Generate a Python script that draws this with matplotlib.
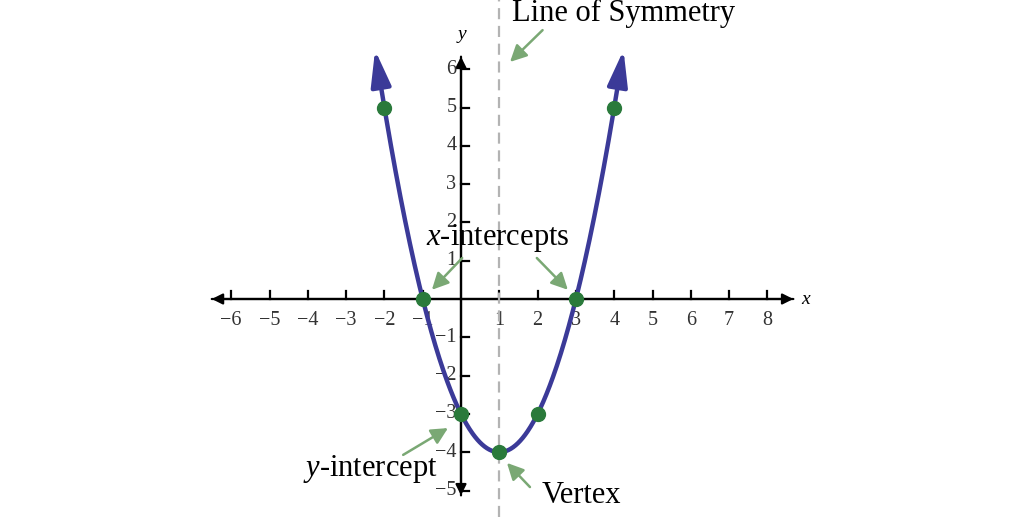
import numpy as np
import matplotlib
matplotlib.use("Agg")
import matplotlib.pyplot as plt

# y = a x^2 + b x + c
coef = (1.0, -2.0, -3.0)
pt_x = [-2, -1, 0, 1, 2, 3, 4]
pt_y = [5, 0, -3, -4, -3, 0, 5]
x_ticks = [-6, -5, -4, -3, -2, -1, 1, 2, 3, 4, 5, 6, 7, 8]
y_ticks = [-5, -4, -3, -2, -1, 1, 2, 3, 4, 5, 6]
curve_range = (-2.1, 4.1)
sym_x = 1

# annotations: (label, text pos, [(arrow start, arrow end), ...])
notes = [
    ("Line of Symmetry", (4.25, 7.45), [((2.13, 7.02), (1.28, 6.19))]),
    ("$x$-intercepts", (0.97, 1.60), [((0.03, 1.07), (-0.76, 0.24)),
                                       ((1.98, 1.07), (2.79, 0.24))]),
    ("$y$-intercept", (-2.36, -4.45), [((-1.51, -4.07), (-0.34, -3.37))]),
    ("Vertex", (3.15, -5.14), [((1.80, -4.91), (1.20, -4.28))]),
]

BLUE = "#3b3a98"
DOT = "#2a7a3b"
NOTE = "#7aa874"
plt.rcParams["font.family"] = ["Liberation Serif", "DejaVu Serif"]
plt.rcParams["mathtext.fontset"] = "custom"
plt.rcParams["mathtext.it"] = "Liberation Serif:italic"
plt.rcParams["mathtext.rm"] = "Liberation Serif"

fig = plt.figure(figsize=(10.24, 5.17), dpi=100)
ax = fig.add_axes([0, 0, 1, 1])
u = 38.3
ax.set_xlim(-461 / u, (1024 - 461) / u)
ax.set_ylim(-(517 - 299) / u, 299 / u)
ax.axis("off")

f = lambda x: coef[0] * x ** 2 + coef[1] * x + coef[2]

# axes with arrows on both ends
axis_arrow = dict(arrowstyle="-|>", color="black", lw=1.6, mutation_scale=16)
ax.annotate("", xy=(-6.58, 0), xytext=(8.75, 0), arrowprops=axis_arrow)
ax.annotate("", xy=(8.75, 0), xytext=(-6.58, 0), arrowprops=axis_arrow)
ax.annotate("", xy=(0, 6.4), xytext=(0, -5.2), arrowprops=axis_arrow)
ax.annotate("", xy=(0, -5.2), xytext=(0, 6.4), arrowprops=axis_arrow)
ax.text(9.0, 0, "x", style="italic", fontsize=14, ha="center", va="center")
ax.text(0.02, 6.9, "y", style="italic", fontsize=14, ha="center", va="center")

for t in x_ticks:
    ax.plot([t, t], [0, 0.2], color="black", lw=1.6)
    s = str(t).replace("-", "\u2212")
    ax.text(t, -0.55, s, fontsize=14.5, color="#333333", ha="center", va="center")
for t in y_ticks:
    ax.plot([0, 0.2], [t, t], color="black", lw=1.6)
    s = str(t).replace("-", "\u2212")
    ax.text(-0.12, t, s, fontsize=14.5, color="#333333", ha="right", va="center")

# line of symmetry
ax.axvline(sym_x, color="#b3b3b3", lw=1.6, ls=(0, (5, 3)), zorder=3)

# parabola
xs = np.linspace(curve_range[0], curve_range[1], 300)
ax.plot(xs, f(xs), color=BLUE, lw=3.2, zorder=4, solid_capstyle="butt")
for x0, sgn in ((curve_range[0], -1), (curve_range[1], 1)):
    d = np.array([sgn, sgn * (2 * coef[0] * x0 + coef[1])])
    d = d / np.hypot(*d)
    tip = np.array([x0, f(x0)]) + 0.9 * d
    ax.annotate("", xy=tuple(tip), xytext=(x0 - 0.05 * d[0], f(x0) - 0.05 * d[1]),
                arrowprops=dict(arrowstyle="-|>,head_length=1.0,head_width=0.28",
                                color=BLUE, lw=3.0, mutation_scale=22,
                                shrinkA=0, shrinkB=0), zorder=5)
ax.plot(pt_x, pt_y, "o", color=DOT, ms=10, zorder=6)

for label, pos, arrows in notes:
    ax.text(pos[0], pos[1], label, fontsize=22, ha="center", va="center", zorder=7)
    for a, b in arrows:
        ax.annotate("", xy=b, xytext=a,
                    arrowprops=dict(arrowstyle="-|>,head_length=0.5,head_width=0.25",
                                    color=NOTE, lw=1.8, mutation_scale=20,
                                    shrinkA=0, shrinkB=0), zorder=7)

fig.savefig("out.png", dpi=100)
